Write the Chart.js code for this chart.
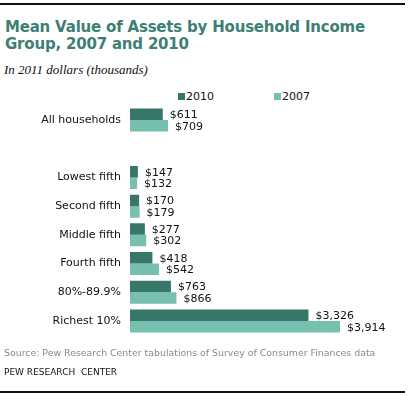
<!DOCTYPE html>
<html><head><meta charset="utf-8">
<script src="https://cdn.jsdelivr.net/npm/chart.js@4.4.1/dist/chart.umd.min.js"></script>
<style>
html,body{margin:0;padding:0;background:#fff;}
#wrap{position:relative;width:410px;height:396px;overflow:hidden;}
canvas{position:absolute;left:0;top:0;}
.t{position:absolute;white-space:nowrap;}
#title{left:5px;top:19px;font:bold 15px "DejaVu Sans";letter-spacing:-0.2px;color:#3d7f73;line-height:17px;}
#sub{left:4px;top:62px;font:italic 13px "Liberation Serif";color:#111;}
#src{left:4px;top:347px;font:9.4px "DejaVu Sans";color:#8a8a8a;}
#pew{left:4px;top:367px;font:9px "DejaVu Sans";color:#111;}
.line{position:absolute;left:0;width:405px;height:2px;background:#111;}
.lg{position:absolute;top:90px;font:11px "DejaVu Sans";color:#111;}
.sw{display:inline-block;width:7px;height:7px;margin-right:1px;}
</style></head>
<body><div id="wrap">
<div class="line" style="top:3px"></div>
<div class="t" id="title">Mean Value of Assets by Household Income<br>Group, 2007 and 2010</div>
<div class="t" id="sub">In 2011 dollars (thousands)</div>
<div class="lg" style="left:178px"><span class="sw" style="background:#37776a"></span>2010</div>
<div class="lg" style="left:274px"><span class="sw" style="background:#77bfae"></span>2007</div>
<canvas id="c" width="410" height="396"></canvas>
<div class="t" id="src">Source: Pew Research Center tabulations of Survey of Consumer Finances data</div>
<div class="t" id="pew">PEW RESEARCH &nbsp;CENTER</div>
<div class="line" style="top:391px"></div>
</div>
<script>
const categories = ["All households", "", "Lowest fifth", "Second fifth", "Middle fifth", "Fourth fifth", "80%-89.9%", "Richest 10%"];
const values2010 = [611, null, 147, 170, 277, 418, 763, 3326];
const values2007 = [709, null, 132, 179, 302, 542, 866, 3914];
const seriesNames = ["2010", "2007"];
const colors = ["#37776a", "#77bfae"];

const plotLeft = 130, plotRight = 400, pxFor3914 = 210;
const xMax = 3914 * (plotRight - plotLeft) / pxFor3914;

const labelPlugin = {
  id: 'vlabels',
  afterDatasetsDraw(chart) {
    const ctx = chart.ctx;
    ctx.save();
    ctx.font = '11px "DejaVu Sans"';
    ctx.fillStyle = '#111';
    ctx.textBaseline = 'middle';
    ctx.textAlign = 'left';
    chart.data.datasets.forEach((ds, di) => {
      const meta = chart.getDatasetMeta(di);
      meta.data.forEach((bar, i) => {
        const v = ds.data[i];
        if (v == null) return;
        ctx.fillText('$' + v.toLocaleString('en-US'), bar.x + 7, bar.y + 1);
      });
    });
    ctx.restore();
  }
};

new Chart(document.getElementById('c'), {
  type: 'bar',
  data: {
    labels: categories,
    datasets: [
      {label: seriesNames[0], data: values2010, backgroundColor: colors[0]},
      {label: seriesNames[1], data: values2007, backgroundColor: colors[1]}
    ]
  },
  options: {
    indexAxis: 'y',
    responsive: false,
    animation: false,
    layout: {padding: {left: 0, right: 410 - plotRight, top: 105.6, bottom: 60.6}},
    datasets: {bar: {categoryPercentage: 0.8, barPercentage: 1.0, borderWidth: 0}},
    plugins: {legend: {display: false}, tooltip: {enabled: false}},
    scales: {
      x: {display: false, min: 0, max: xMax},
      y: {
        grid: {display: false, drawTicks: false},
        border: {display: false},
        ticks: {padding: 9, color: '#111', font: {family: 'DejaVu Sans', size: 11}},
        afterFit(scale) { scale.width = plotLeft; }
      }
    }
  },
  plugins: [labelPlugin]
});
</script>
</body></html>
